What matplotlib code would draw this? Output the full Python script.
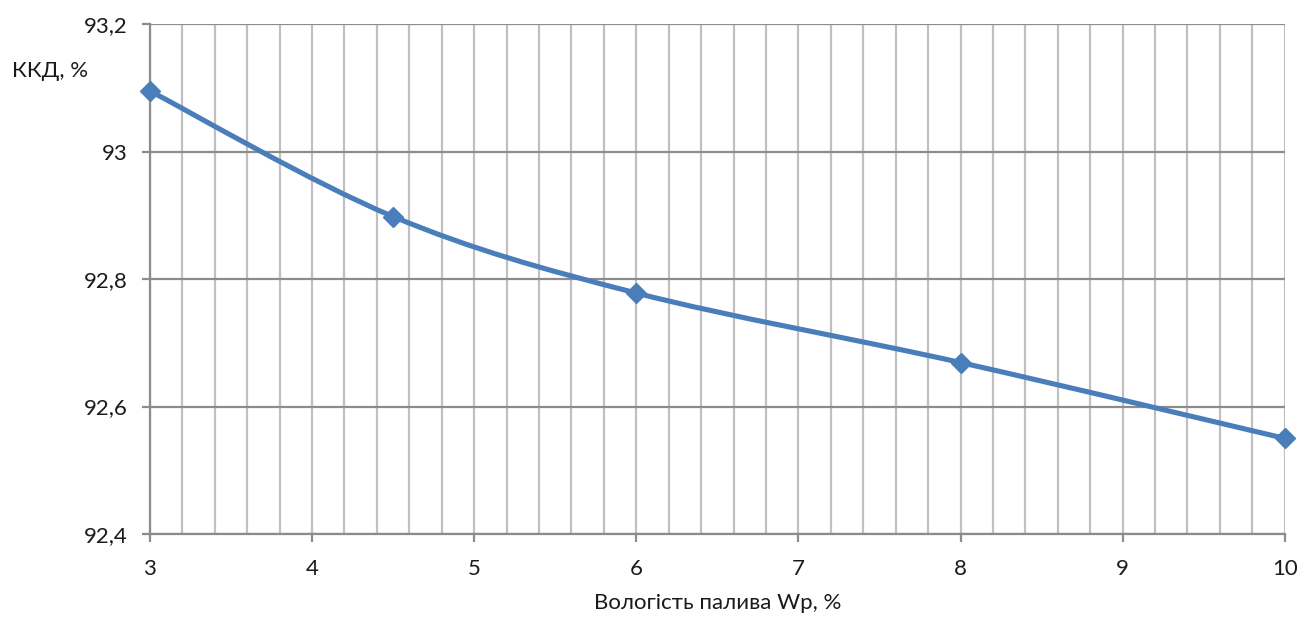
import numpy as np
import matplotlib
matplotlib.use('Agg')
import matplotlib.pyplot as plt
from matplotlib.path import Path
from matplotlib.patches import PathPatch
from matplotlib.ticker import MultipleLocator, FixedLocator, FixedFormatter

### Data
moisture = [3, 4.5, 6, 8, 10]
efficiency = [93.095, 92.898, 92.778, 92.669, 92.550]
yticks = [92.4, 92.6, 92.8, 93.0, 93.2]
ytick_labels = ['92,4', '92,6', '92,8', '93', '93,2']
xticks = [3, 4, 5, 6, 7, 8, 9, 10]

plt.rcParams['font.family'] = ['Lato', 'DejaVu Sans']

linecol = '#4A7EBB'
majorgrid = '#8C8C8C'
minorgrid = '#C0C0C0'
txtcol = '#1a1a1a'

fig = plt.figure(figsize=(13.15, 6.24), dpi=100)
ax = fig.add_axes([0.114, 0.1442, 0.863, 0.8173])

### Smoothed line (bezier through the points, Excel style)
pts = np.column_stack([moisture, efficiency])
ext = np.vstack([pts[0], pts, pts[-1]])
verts = [tuple(pts[0])]
codes = [Path.MOVETO]
for i in range(1, len(ext) - 2):
    p0, p1, p2, p3 = ext[i - 1], ext[i], ext[i + 1], ext[i + 2]
    c1 = p1 + (p2 - p0) / 6.0
    c2 = p2 - (p3 - p1) / 6.0
    verts += [tuple(c1), tuple(c2), tuple(p2)]
    codes += [Path.CURVE4] * 3
patch = PathPatch(Path(verts, codes), facecolor='none', edgecolor=linecol,
                  linewidth=3.7, capstyle='round', joinstyle='round', zorder=3,
                  clip_on=False)
ax.add_patch(patch)
ax.plot(moisture, efficiency, linestyle='none', marker='D', markersize=10.5,
        color=linecol, zorder=4, clip_on=False)

ax.set_xlim(3, 10)
ax.set_ylim(92.4, 93.2)

ax.xaxis.set_major_locator(FixedLocator(xticks))
ax.xaxis.set_minor_locator(MultipleLocator(0.2))
ax.yaxis.set_major_locator(FixedLocator(yticks))
ax.yaxis.set_major_formatter(FixedFormatter(ytick_labels))

ax.grid(True, axis='x', which='both', color=minorgrid, linewidth=1.6)
ax.grid(True, axis='y', which='major', color=majorgrid, linewidth=1.6)
ax.set_axisbelow(True)

for s in ['top', 'right']:
    ax.spines[s].set_visible(False)
for s in ['left', 'bottom']:
    ax.spines[s].set_color(majorgrid)
    ax.spines[s].set_linewidth(1.6)

ax.tick_params(axis='both', which='major', direction='out', length=6,
               width=1.6, color=majorgrid, labelsize=16, labelcolor=txtcol)
ax.tick_params(axis='x', which='minor', length=0)
ax.tick_params(axis='x', pad=12)
ax.tick_params(axis='y', pad=10)

fig.text(0.009, 0.887, 'ККД, %', fontsize=16, color=txtcol,
         ha='left', va='center')
ax.set_xlabel('Вологість палива Wp, %', fontsize=16, color=txtcol,
              labelpad=10)

plt.savefig('out.png', dpi=100)
